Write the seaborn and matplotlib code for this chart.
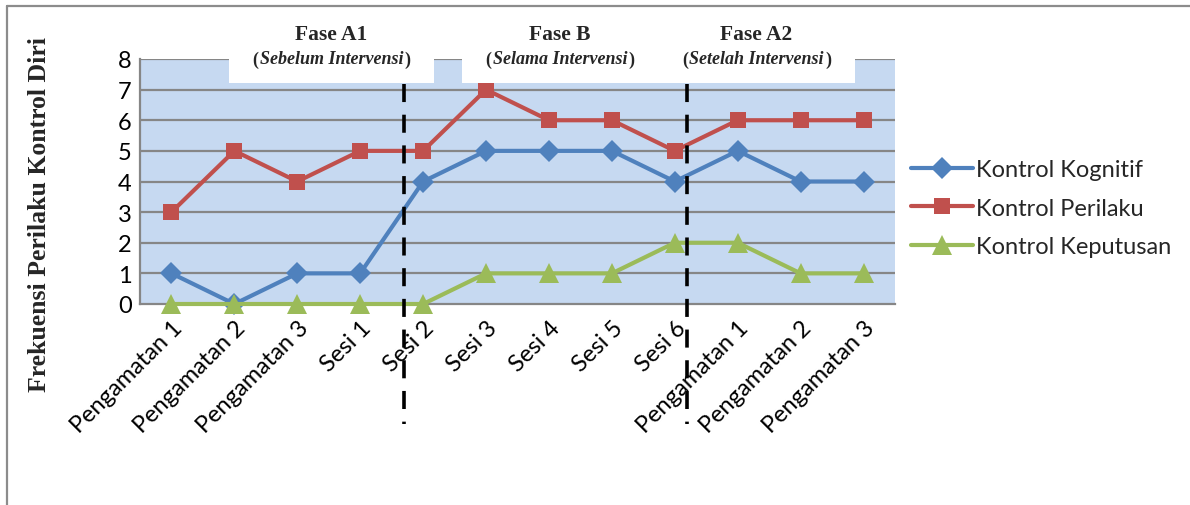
import matplotlib
matplotlib.use("Agg")
import matplotlib.pyplot as plt
from matplotlib.patches import Rectangle
from matplotlib.lines import Line2D
import seaborn as sns
import pandas as pd

# Observation sessions across the three phases
categories = ["Pengamatan 1", "Pengamatan 2", "Pengamatan 3",
              "Sesi 1", "Sesi 2", "Sesi 3", "Sesi 4", "Sesi 5", "Sesi 6",
              "Pengamatan 1", "Pengamatan 2", "Pengamatan 3"]
kognitif = [1, 0, 1, 1, 4, 5, 5, 5, 4, 5, 4, 4]
perilaku = [3, 5, 4, 5, 5, 7, 6, 6, 5, 6, 6, 6]
keputusan = [0, 0, 0, 0, 0, 1, 1, 1, 2, 2, 1, 1]
series_names = ["Kontrol Kognitif", "Kontrol Perilaku", "Kontrol Keputusan"]
phase_titles = ["Fase A1", "Fase B", "Fase A2"]
phase_subtitles = ["Sebelum Intervensi", "Selama Intervensi", "Setelah Intervensi"]
phase_breaks = [3.70, 8.19]
y_ticks = list(range(0, 9))

sns.set_theme(style="white")
plt.rcParams["font.family"] = ["Lato", "DejaVu Sans"]

W, H = 1190, 506
fig = plt.figure(figsize=(W / 100, H / 100), dpi=100)

def fx(px):
    return px / W

def fy(py):
    return 1 - py / H

# outer chart frame: top and left edges
frame_kw = dict(transform=fig.transFigure, color="#8c8c8c", linewidth=1.6, zorder=0)
fig.lines.append(Line2D([fx(7), 1.0], [fy(7), fy(7)], **frame_kw))
fig.lines.append(Line2D([fx(7), fx(7)], [fy(7), 0.0], **frame_kw))

ax = fig.add_axes([fx(140), fy(305), fx(895) - fx(140), fy(60) - fy(305)])
ax.set_facecolor("#c6d9f1")

df = pd.DataFrame({
    "x": list(range(len(categories))) * 3,
    "value": kognitif + perilaku + keputusan,
    "series": sum([[n] * len(categories) for n in series_names], []),
})
colors = ["#4f81bd", "#c0504d", "#9bbb59"]
markers = ["D", "s", "^"]
msizes = [11, 12, 14]
for name, c, m, ms in zip(series_names, colors, markers, msizes):
    sub = df[df["series"] == name]
    sns.lineplot(data=sub, x="x", y="value", ax=ax, color=c, linewidth=3.0,
                 marker=m, markersize=ms, markeredgewidth=0, markeredgecolor=c,
                 clip_on=False, zorder=3, legend=False)

ax.set_xlim(-0.5, len(categories) - 0.5)
ax.set_ylim(0, 8)
ax.set_yticks(y_ticks)
ax.set_yticklabels([str(t) for t in y_ticks], fontsize=17)
ax.set_xticks(range(len(categories)))
ax.set_xticklabels(categories, rotation=45, ha="right", va="top",
                   rotation_mode="anchor", fontsize=17)
ax.tick_params(axis="both", length=0, colors="black")
ax.tick_params(axis="y", pad=6)
ax.tick_params(axis="x", pad=9)
for t in y_ticks[1:]:
    ax.axhline(t, color="#868686", linewidth=1.6, zorder=1)
for s in ["top", "right"]:
    ax.spines[s].set_visible(False)
for s in ["left", "bottom"]:
    ax.spines[s].set_color("#868686")
    ax.spines[s].set_linewidth(1.6)
ax.set_xlabel("")
ax.set_ylabel("")

# phase separators
for xb in phase_breaks:
    ax.plot([xb, xb], [8 - 25 / 30.6, -120 / 30.6], color="black", linewidth=2.6,
            linestyle=(0, (5, 3.5)), clip_on=False, zorder=4)

# phase heading boxes
renderer = fig.canvas.get_renderer()
boxes = [(229, 434), (462, 658), (658, 855)]
for (x0, x1), title, sub in zip(boxes, phase_titles, phase_subtitles):
    fig.patches.append(Rectangle((fx(x0), fy(84)), fx(x1) - fx(x0), fy(14) - fy(84),
                                 transform=fig.transFigure, facecolor="white",
                                 edgecolor="none", zorder=5))
    cx = fx((x0 + x1) / 2)
    fig.text(cx, fy(35), title, ha="center", va="center", fontsize=15.5,
             fontweight="bold", family="Liberation Serif", zorder=6)
    mid = fig.text(cx, fy(60), sub, ha="center", va="center", fontsize=13,
                   fontweight="bold", fontstyle="italic",
                   family="Liberation Serif", zorder=6)
    bb = mid.get_window_extent(renderer)
    fig.text(bb.x0 / fig.dpi / fig.get_figwidth() - 0.001, fy(60), "(",
             ha="right", va="center", fontsize=13, fontweight="bold",
             family="Liberation Serif", zorder=6)
    fig.text(bb.x1 / fig.dpi / fig.get_figwidth() + 0.001, fy(60), ")",
             ha="left", va="center", fontsize=13, fontweight="bold",
             family="Liberation Serif", zorder=6)

fig.text(fx(40), fy(215), "Frekuensi Perilaku Kontrol Diri", rotation=90,
         ha="center", va="center", fontsize=18.5, fontweight="bold",
         family="Liberation Serif")

handles = [Line2D([0], [0], color=c, linewidth=3.0, marker=m, markersize=ms,
                  markeredgewidth=0) for c, m, ms in zip(colors, markers, msizes)]
fig.legend(handles, series_names, loc="center left",
           bbox_to_anchor=(fx(902), fy(209)), frameon=False, fontsize=17,
           handlelength=2.6, handletextpad=0.15, labelspacing=0.75,
           borderaxespad=0)

fig.savefig("out.png", dpi=100, facecolor="white")
